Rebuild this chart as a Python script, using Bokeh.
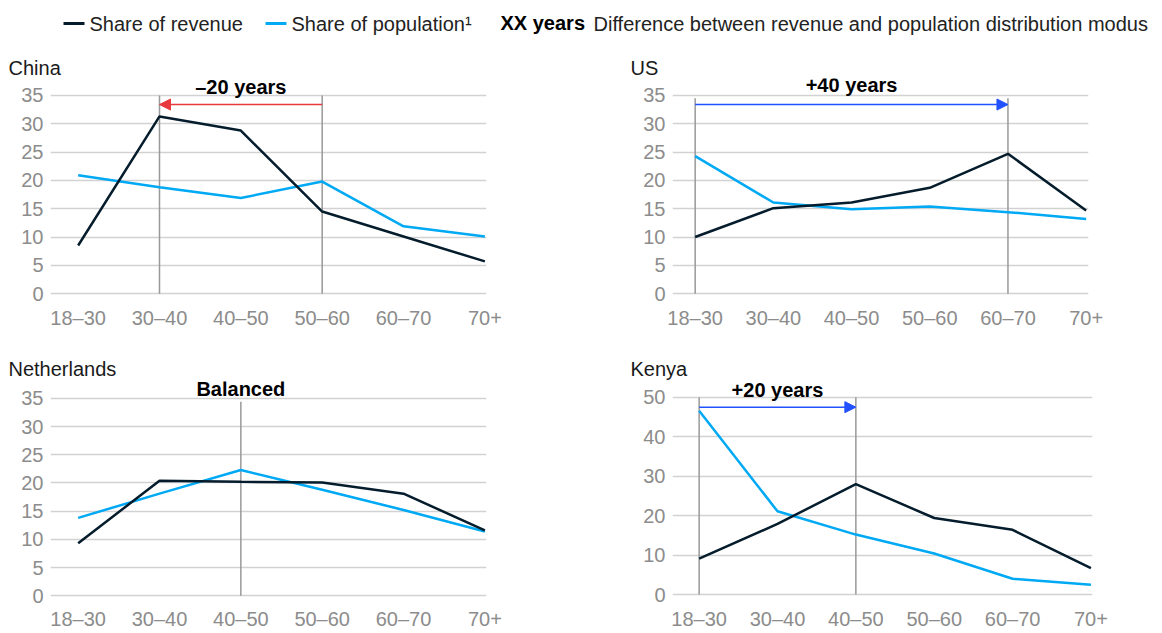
from bokeh.plotting import figure
from bokeh.models import Range1d, FixedTicker, Arrow, NormalHead
from bokeh.layouts import column, row
from bokeh.core.properties import value
from bokeh.embed import file_html
from bokeh.resources import INLINE

FONT = "Liberation Sans"
DARK = "#051c2c"
CYAN = "#00a9f4"
RED = "#e8393f"
BLUE = "#2251ff"
GRID = "#d2d2d2"
TICK = "#8c8c8c"
VLINE = "#999999"

AGE_GROUPS = ["18–30", "30–40", "40–50", "50–60", "60–70", "70+"]

CHINA_REVENUE = [8.5, 31.3, 28.8, 14.5, 10.1, 5.7]
CHINA_POPULATION = [20.9, 18.8, 16.9, 19.8, 11.9, 10.1]
US_REVENUE = [10.0, 15.1, 16.1, 18.7, 24.7, 14.7]
US_POPULATION = [24.3, 16.1, 14.9, 15.4, 14.4, 13.2]
NL_REVENUE = [9.3, 20.4, 20.2, 20.1, 18.1, 11.6]
NL_POPULATION = [13.8, 18.1, 22.3, 18.8, 15.2, 11.4]
KENYA_REVENUE = [9.1, 17.9, 28.0, 19.4, 16.4, 6.7]
KENYA_POPULATION = [46.6, 21.1, 15.2, 10.4, 4.0, 2.5]

# (population modus, revenue modus) and difference label
CHINA_MODES = ("50–60", "30–40")
US_MODES = ("18–30", "60–70")
NL_MODES = ("40–50", "40–50")
KENYA_MODES = ("18–30", "40–50")
CHINA_LABEL = "–20 years"
US_LABEL = "+40 years"
NL_LABEL = "Balanced"
KENYA_LABEL = "+20 years"

LEGEND_REVENUE = "Share of revenue"
LEGEND_POPULATION = "Share of population¹"
LEGEND_KEY = "XX years"
LEGEND_KEY_TEXT = "Difference between revenue and population distribution modus"


def panel(title, revenue, population, modes, label, y_max, y_step, y_rng,
          x_rng, arrow_y, label_y, vtop, width, height, mb_left, mb_right,
          mb_top, mb_bottom, x_standoff, title_offset, title_standoff):
    p = figure(width=width, height=height, x_range=Range1d(*x_rng),
               y_range=Range1d(*y_rng), output_backend="svg",
               toolbar_location=None, min_border_left=mb_left,
               min_border_right=mb_right, min_border_top=mb_top,
               min_border_bottom=mb_bottom, title=title)
    p.outline_line_color = None
    p.title.text_font = FONT
    p.title.text_font_size = "20px"
    p.title.text_font_style = "normal"
    p.title.text_color = "#1a1a1a"
    p.title.align = "left"
    p.title.offset = title_offset
    p.title.standoff = title_standoff

    idx = list(range(len(AGE_GROUPS)))
    p.xgrid.visible = False
    p.ygrid.grid_line_color = GRID
    p.ygrid.grid_line_width = 1.5

    p.yaxis.ticker = FixedTicker(ticks=list(range(0, y_max + 1, y_step)))
    p.xaxis.ticker = FixedTicker(ticks=idx)
    p.xaxis.major_label_overrides = {i: g for i, g in enumerate(AGE_GROUPS)}
    for ax in (p.xaxis, p.yaxis):
        ax.axis_line_color = None
        ax.major_tick_line_color = None
        ax.minor_tick_line_color = None
        ax.major_tick_out = 0
        ax.major_tick_in = 0
        ax.minor_tick_out = 0
        ax.minor_tick_in = 0
        ax.major_label_text_font = FONT
        ax.major_label_text_font_size = "20px"
        ax.major_label_text_color = TICK
    p.yaxis.major_label_standoff = 7
    p.xaxis.major_label_standoff = x_standoff

    i_from = AGE_GROUPS.index(modes[0])
    i_to = AGE_GROUPS.index(modes[1])
    vx = sorted(set([i_from, i_to]))
    p.segment(x0=vx, y0=[0] * len(vx), x1=vx, y1=[vtop] * len(vx),
              line_color=VLINE, line_width=1.5)

    p.line(idx, population, line_color=CYAN, line_width=2.5)
    p.line(idx, revenue, line_color=DARK, line_width=2.5)

    if i_from != i_to:
        c = RED if i_to < i_from else BLUE
        p.add_layout(Arrow(end=NormalHead(size=11, fill_color=c, line_color=c),
                           x_start=i_from, y_start=arrow_y, x_end=i_to,
                           y_end=arrow_y, line_color=c, line_width=1.5))
    p.text(x=[(i_from + i_to) / 2], y=[label_y], text=[label],
           text_font=value(FONT), text_font_style="bold",
           text_font_size="20px", text_align="center",
           text_baseline="middle", text_color="#000000")
    return p


china = panel("China", CHINA_REVENUE, CHINA_POPULATION, CHINA_MODES,
              CHINA_LABEL, 35, 5, (-0.5, 38.0), (-0.34, 5.02), 33.4, 36.5,
              35, 630, 293, 50, 144, 30, 45, 10, -42, 0)
us = panel("US", US_REVENUE, US_POPULATION, US_MODES, US_LABEL, 35, 5,
           (-0.5, 38.0), (-0.29, 5.03), 33.4, 36.8, 34.5, 530, 293, 42, 72,
           30, 45, 10, -42, 0)
nl = panel("Netherlands", NL_REVENUE, NL_POPULATION, NL_MODES, NL_LABEL, 35,
           5, (-0.5, 38.0), (-0.34, 5.02), 33.4, 36.6, 34.4, 630, 291, 50,
           144, 40, 33, 9, -42, 3)
kenya = panel("Kenya", KENYA_REVENUE, KENYA_POPULATION, KENYA_MODES,
              KENYA_LABEL, 50, 10, (-1.0, 54.0), (-0.34, 5.02), 47.5, 51.9,
              50, 530, 291, 42, 68, 40, 33, 9, -42, 3)

header = figure(width=1160, height=48, x_range=Range1d(0, 1160),
                y_range=Range1d(48, 0), output_backend="svg",
                toolbar_location=None, min_border=0, x_axis_type=None,
                y_axis_type=None)
header.outline_line_color = None
header.xgrid.visible = False
header.ygrid.visible = False
header.segment(x0=[63, 265], y0=[23, 23], x1=[84, 286], y1=[23, 23],
               line_color=[DARK, CYAN], line_width=3)
header.text(x=[89, 291, 593], y=[23, 23, 23],
            text=[LEGEND_REVENUE, LEGEND_POPULATION, LEGEND_KEY_TEXT],
            text_font=value(FONT), text_font_size="20px",
            text_baseline="middle", text_color="#222222")
header.text(x=[500], y=[22], text=[LEGEND_KEY], text_font=value(FONT),
            text_font_size="20px", text_font_style="bold",
            text_baseline="middle", text_color="#000000")

layout = column(header, row(china, us), row(nl, kenya))
open("out.html", "w").write(file_html(layout, INLINE))
